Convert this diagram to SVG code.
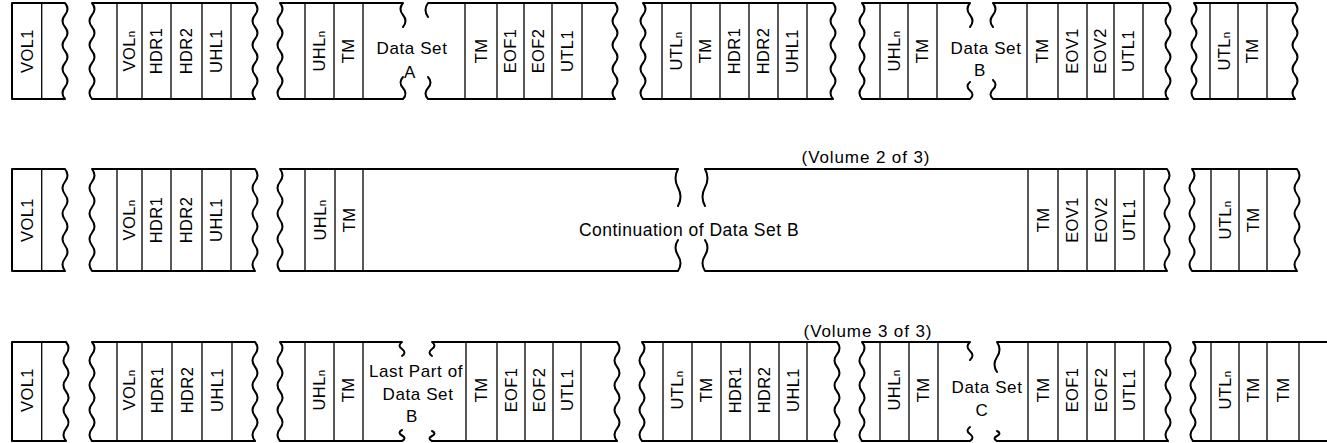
<svg xmlns="http://www.w3.org/2000/svg" width="1327" height="443" viewBox="0 0 1327 443">
<style>
.o{fill:none;stroke:#000;stroke-width:2;stroke-linejoin:round;stroke-linecap:round}
.d{fill:none;stroke:#000;stroke-width:1.3}
.t{font-family:"Liberation Sans",Arial,sans-serif;font-size:16.5px;fill:#000;text-anchor:middle;letter-spacing:0.4px}
.c{font-family:"Liberation Sans",Arial,sans-serif;font-size:17px;fill:#000;text-anchor:middle;letter-spacing:0.6px}
.s{font-size:11.5px}
</style>
<rect width="1327" height="443" fill="#fff"/>

<!-- ROW 1 -->
<g id="r1s1">
<path class="o" d="M 12,3 H 65 q 5,6 0,12 t 0,12 t 0,12 t 0,12 t 0,12 t 0,12 t 0,12 t 0,12 H 12 Z"/>
<path class="d" d="M 41.7,3 V 99"/>
<text class="t" transform="translate(27,51) rotate(-90)" dy="0.36em">VOL1</text>
</g>
<g id="r1s2">
<path class="o" d="M 92,3 H 255 q 5,6 0,12 t 0,12 t 0,12 t 0,12 t 0,12 t 0,12 t 0,12 t 0,12 H 92 q -5,-6 0,-12 t 0,-12 t 0,-12 t 0,-12 t 0,-12 t 0,-12 t 0,-12 t 0,-12 Z"/>
<path class="d" d="M 117,3 V 99 M 142,3 V 99 M 171,3 V 99 M 202,3 V 99 M 231,3 V 99"/>
<text class="t" transform="translate(129.5,51) rotate(-90)" dy="0.36em">VOL<tspan class="s">n</tspan></text>
<text class="t" transform="translate(156.5,51) rotate(-90)" dy="0.36em">HDR1</text>
<text class="t" transform="translate(186.5,51) rotate(-90)" dy="0.36em">HDR2</text>
<text class="t" transform="translate(216.5,51) rotate(-90)" dy="0.36em">UHL1</text>
</g>
<g id="r1s3">
<path class="o" d="M 403,27 q 5,-6 0,-12 t 0,-12 H 280 q 5,6 0,12 t 0,12 t 0,12 t 0,12 t 0,12 t 0,12 t 0,12 t 0,12 H 403 q 5,-5.5 0,-11 t 0,-11"/>
<path class="o" d="M 428,17 q -5,-7 0,-14 H 615 q 5,6 0,12 t 0,12 t 0,12 t 0,12 t 0,12 t 0,12 t 0,12 t 0,12 H 428 q -5,-5.5 0,-11 t 0,-11"/>
<path class="d" d="M 305,3 V 99 M 334,3 V 99 M 363,3 V 99 M 465,3 V 99 M 497,3 V 99 M 524,3 V 99 M 552,3 V 99 M 582,3 V 99"/>
<text class="t" transform="translate(319.5,51) rotate(-90)" dy="0.36em">UHL<tspan class="s">n</tspan></text>
<text class="t" transform="translate(348.5,51) rotate(-90)" dy="0.36em">TM</text>
<text class="c" x="412" y="54">Data Set</text>
<text class="c" x="410" y="78">A</text>
<text class="t" transform="translate(481,51) rotate(-90)" dy="0.36em">TM</text>
<text class="t" transform="translate(510.5,51) rotate(-90)" dy="0.36em">EOF1</text>
<text class="t" transform="translate(538,51) rotate(-90)" dy="0.36em">EOF2</text>
<text class="t" transform="translate(567,51) rotate(-90)" dy="0.36em">UTL1</text>
</g>
<g id="r1s4">
<path class="o" d="M 643,3 H 833 q 5,6 0,12 t 0,12 t 0,12 t 0,12 t 0,12 t 0,12 t 0,12 t 0,12 H 643 q -5,-6 0,-12 t 0,-12 t 0,-12 t 0,-12 t 0,-12 t 0,-12 t 0,-12 t 0,-12 Z"/>
<path class="d" d="M 662,3 V 99 M 691,3 V 99 M 720,3 V 99 M 749,3 V 99 M 778,3 V 99 M 807,3 V 99"/>
<text class="t" transform="translate(676.5,51) rotate(-90)" dy="0.36em">UTL<tspan class="s">n</tspan></text>
<text class="t" transform="translate(705.5,51) rotate(-90)" dy="0.36em">TM</text>
<text class="t" transform="translate(734.5,51) rotate(-90)" dy="0.36em">HDR1</text>
<text class="t" transform="translate(763.5,51) rotate(-90)" dy="0.36em">HDR2</text>
<text class="t" transform="translate(792.5,51) rotate(-90)" dy="0.36em">UHL1</text>
</g>
<g id="r1s5">
<path class="o" d="M 970,27 q 5,-6 0,-12 t 0,-12 H 862 q 5,6 0,12 t 0,12 t 0,12 t 0,12 t 0,12 t 0,12 t 0,12 t 0,12 H 970 q 5,-4.25 0,-8.5 t 0,-8.5"/>
<path class="o" d="M 993,27 q -5,-6 0,-12 t 0,-12 H 1168 q 5,6 0,12 t 0,12 t 0,12 t 0,12 t 0,12 t 0,12 t 0,12 t 0,12 H 993 q -5,-4.75 0,-9.5 t 0,-9.5"/>
<path class="d" d="M 880,3 V 99 M 908,3 V 99 M 937,3 V 99 M 1027,3 V 99 M 1058,3 V 99 M 1087,3 V 99 M 1114,3 V 99 M 1143,3 V 99"/>
<text class="t" transform="translate(894,51) rotate(-90)" dy="0.36em">UHL<tspan class="s">n</tspan></text>
<text class="t" transform="translate(922.5,51) rotate(-90)" dy="0.36em">TM</text>
<text class="c" x="986" y="54">Data Set</text>
<text class="c" x="980" y="76">B</text>
<text class="t" transform="translate(1042.5,51) rotate(-90)" dy="0.36em">TM</text>
<text class="t" transform="translate(1072.5,51) rotate(-90)" dy="0.36em">EOV1</text>
<text class="t" transform="translate(1100.5,51) rotate(-90)" dy="0.36em">EOV2</text>
<text class="t" transform="translate(1128.5,51) rotate(-90)" dy="0.36em">UTL1</text>
</g>
<g id="r1s6">
<path class="o" d="M 1194,3 H 1295 q 5,6 0,12 t 0,12 t 0,12 t 0,12 t 0,12 t 0,12 t 0,12 t 0,12 H 1194 q -5,-6 0,-12 t 0,-12 t 0,-12 t 0,-12 t 0,-12 t 0,-12 t 0,-12 t 0,-12 Z"/>
<path class="d" d="M 1210,3 V 99 M 1238,3 V 99 M 1267,3 V 99"/>
<text class="t" transform="translate(1224,51) rotate(-90)" dy="0.36em">UTL<tspan class="s">n</tspan></text>
<text class="t" transform="translate(1252.5,51) rotate(-90)" dy="0.36em">TM</text>
</g>

<!-- ROW 2 -->
<text id="cap2" class="c" x="866" y="163" style="letter-spacing:0.9px">(Volume 2 of 3)</text>
<g id="r2s1">
<path class="o" d="M 12,169 H 65 q 5,6.4 0,12.75 t 0,12.75 t 0,12.75 t 0,12.75 t 0,12.75 t 0,12.75 t 0,12.75 t 0,12.75 H 12 Z"/>
<path class="d" d="M 41.7,169 V 271"/>
<text class="t" transform="translate(27,220) rotate(-90)" dy="0.36em">VOL1</text>
</g>
<g id="r2s2">
<path class="o" d="M 92,169 H 255 q 5,6.4 0,12.75 t 0,12.75 t 0,12.75 t 0,12.75 t 0,12.75 t 0,12.75 t 0,12.75 t 0,12.75 H 92 q -5,-6.4 0,-12.75 t 0,-12.75 t 0,-12.75 t 0,-12.75 t 0,-12.75 t 0,-12.75 t 0,-12.75 t 0,-12.75 Z"/>
<path class="d" d="M 117,169 V 271 M 142,169 V 271 M 171,169 V 271 M 202,169 V 271 M 231,169 V 271"/>
<text class="t" transform="translate(129.5,220) rotate(-90)" dy="0.36em">VOL<tspan class="s">n</tspan></text>
<text class="t" transform="translate(156.5,220) rotate(-90)" dy="0.36em">HDR1</text>
<text class="t" transform="translate(186.5,220) rotate(-90)" dy="0.36em">HDR2</text>
<text class="t" transform="translate(216.5,220) rotate(-90)" dy="0.36em">UHL1</text>
</g>
<g id="r2s3">
<path class="o" d="M 678,206 q 5,-9.25 0,-18.5 t 0,-18.5 H 280 q 5,6.4 0,12.75 t 0,12.75 t 0,12.75 t 0,12.75 t 0,12.75 t 0,12.75 t 0,12.75 t 0,12.75 H 678 q 5,-7.75 0,-15.5 t 0,-15.5"/>
<path class="o" d="M 705,206 q -5,-9.25 0,-18.5 t 0,-18.5 H 1167 q 5,6.4 0,12.75 t 0,12.75 t 0,12.75 t 0,12.75 t 0,12.75 t 0,12.75 t 0,12.75 t 0,12.75 H 705 q -5,-7.75 0,-15.5 t 0,-15.5"/>
<path class="d" d="M 305,169 V 271 M 335,169 V 271 M 363,169 V 271 M 1028,169 V 271 M 1058,169 V 271 M 1087,169 V 271 M 1115,169 V 271 M 1144,169 V 271"/>
<text class="t" transform="translate(320,220) rotate(-90)" dy="0.36em">UHL<tspan class="s">n</tspan></text>
<text class="t" transform="translate(349,220) rotate(-90)" dy="0.36em">TM</text>
<text class="c" x="689" y="236" style="font-size:17.5px;letter-spacing:0.5px">Continuation of Data Set B</text>
<text class="t" transform="translate(1043,220) rotate(-90)" dy="0.36em">TM</text>
<text class="t" transform="translate(1072.5,220) rotate(-90)" dy="0.36em">EOV1</text>
<text class="t" transform="translate(1101,220) rotate(-90)" dy="0.36em">EOV2</text>
<text class="t" transform="translate(1129.5,220) rotate(-90)" dy="0.36em">UTL1</text>
</g>
<g id="r2s6">
<path class="o" d="M 1192,169 H 1297 q 5,6.4 0,12.75 t 0,12.75 t 0,12.75 t 0,12.75 t 0,12.75 t 0,12.75 t 0,12.75 t 0,12.75 H 1192 q -5,-6.4 0,-12.75 t 0,-12.75 t 0,-12.75 t 0,-12.75 t 0,-12.75 t 0,-12.75 t 0,-12.75 t 0,-12.75 Z"/>
<path class="d" d="M 1211,169 V 271 M 1239,169 V 271 M 1267,169 V 271"/>
<text class="t" transform="translate(1225,220) rotate(-90)" dy="0.36em">UTL<tspan class="s">n</tspan></text>
<text class="t" transform="translate(1253,220) rotate(-90)" dy="0.36em">TM</text>
</g>

<!-- ROW 3 -->
<text id="cap3" class="c" x="868" y="337" style="letter-spacing:0.9px">(Volume 3 of 3)</text>
<g id="r3s1">
<path class="o" d="M 12,342 H 66 q 5,6.2 0,12.375 t 0,12.375 t 0,12.375 t 0,12.375 t 0,12.375 t 0,12.375 t 0,12.375 t 0,12.375 H 12 Z"/>
<path class="d" d="M 41.7,342 V 441"/>
<text class="t" transform="translate(27,390) rotate(-90)" dy="0.36em">VOL1</text>
</g>
<g id="r3s2">
<path class="o" d="M 92,342 H 255 q 5,6.2 0,12.375 t 0,12.375 t 0,12.375 t 0,12.375 t 0,12.375 t 0,12.375 t 0,12.375 t 0,12.375 H 92 q -5,-6.2 0,-12.375 t 0,-12.375 t 0,-12.375 t 0,-12.375 t 0,-12.375 t 0,-12.375 t 0,-12.375 t 0,-12.375 Z"/>
<path class="d" d="M 117,342 V 441 M 142,342 V 441 M 172,342 V 441 M 202,342 V 441 M 232,342 V 441"/>
<text class="t" transform="translate(129.5,390) rotate(-90)" dy="0.36em">VOL<tspan class="s">n</tspan></text>
<text class="t" transform="translate(157,390) rotate(-90)" dy="0.36em">HDR1</text>
<text class="t" transform="translate(187,390) rotate(-90)" dy="0.36em">HDR2</text>
<text class="t" transform="translate(217,390) rotate(-90)" dy="0.36em">UHL1</text>
</g>
<g id="r3s3">
<path class="o" d="M 402,356 q 5,-3.5 0,-7 t 0,-7 H 280 q 5,6.2 0,12.375 t 0,12.375 t 0,12.375 t 0,12.375 t 0,12.375 t 0,12.375 t 0,12.375 t 0,12.375 H 402 q 5,-2.75 0,-5.5 t 0,-5.5"/>
<path class="o" d="M 432,356 q -5,-3.5 0,-7 t 0,-7 H 617 q 5,6.2 0,12.375 t 0,12.375 t 0,12.375 t 0,12.375 t 0,12.375 t 0,12.375 t 0,12.375 t 0,12.375 H 432 q -5,-2.5 0,-5 t 0,-5"/>
<path class="d" d="M 305,342 V 441 M 334,342 V 441 M 363,342 V 441 M 466,342 V 441 M 497,342 V 441 M 525,342 V 441 M 553,342 V 441 M 581,342 V 441"/>
<text class="t" transform="translate(319.5,390) rotate(-90)" dy="0.36em">UHL<tspan class="s">n</tspan></text>
<text class="t" transform="translate(348.5,390) rotate(-90)" dy="0.36em">TM</text>
<text class="c" x="416" y="377">Last Part of</text>
<text class="c" x="418" y="400">Data Set</text>
<text class="c" x="412" y="422">B</text>
<text class="t" transform="translate(481.5,390) rotate(-90)" dy="0.36em">TM</text>
<text class="t" transform="translate(511,390) rotate(-90)" dy="0.36em">EOF1</text>
<text class="t" transform="translate(539,390) rotate(-90)" dy="0.36em">EOF2</text>
<text class="t" transform="translate(567,390) rotate(-90)" dy="0.36em">UTL1</text>
</g>
<g id="r3s4">
<path class="o" d="M 642,342 H 837 q 5,6.2 0,12.375 t 0,12.375 t 0,12.375 t 0,12.375 t 0,12.375 t 0,12.375 t 0,12.375 t 0,12.375 H 642 q -5,-6.2 0,-12.375 t 0,-12.375 t 0,-12.375 t 0,-12.375 t 0,-12.375 t 0,-12.375 t 0,-12.375 t 0,-12.375 Z"/>
<path class="d" d="M 663,342 V 441 M 692,342 V 441 M 721,342 V 441 M 750,342 V 441 M 779,342 V 441 M 807,342 V 441"/>
<text class="t" transform="translate(677.5,390) rotate(-90)" dy="0.36em">UTL<tspan class="s">n</tspan></text>
<text class="t" transform="translate(706.5,390) rotate(-90)" dy="0.36em">TM</text>
<text class="t" transform="translate(735.5,390) rotate(-90)" dy="0.36em">HDR1</text>
<text class="t" transform="translate(764.5,390) rotate(-90)" dy="0.36em">HDR2</text>
<text class="t" transform="translate(793,390) rotate(-90)" dy="0.36em">UHL1</text>
</g>
<g id="r3s5">
<path class="o" d="M 970,360 q 5,-4.5 0,-9 t 0,-9 H 862 q 5,6.2 0,12.375 t 0,12.375 t 0,12.375 t 0,12.375 t 0,12.375 t 0,12.375 t 0,12.375 t 0,12.375 H 970 q 5,-3.5 0,-7 t 0,-7"/>
<path class="o" d="M 997,372 q -5,-7.5 0,-15 t 0,-15 H 1168 q 5,6.2 0,12.375 t 0,12.375 t 0,12.375 t 0,12.375 t 0,12.375 t 0,12.375 t 0,12.375 t 0,12.375 H 997 q -5,-2.5 0,-5 t 0,-5"/>
<path class="d" d="M 880,342 V 441 M 909,342 V 441 M 938,342 V 441 M 1028,342 V 441 M 1058,342 V 441 M 1087,342 V 441 M 1115,342 V 441 M 1144,342 V 441"/>
<text class="t" transform="translate(894.5,390) rotate(-90)" dy="0.36em">UHL<tspan class="s">n</tspan></text>
<text class="t" transform="translate(923.5,390) rotate(-90)" dy="0.36em">TM</text>
<text class="c" x="987" y="393">Data Set</text>
<text class="c" x="982" y="416">C</text>
<text class="t" transform="translate(1043,390) rotate(-90)" dy="0.36em">TM</text>
<text class="t" transform="translate(1072.5,390) rotate(-90)" dy="0.36em">EOF1</text>
<text class="t" transform="translate(1101,390) rotate(-90)" dy="0.36em">EOF2</text>
<text class="t" transform="translate(1129.5,390) rotate(-90)" dy="0.36em">UTL1</text>
</g>
<g id="r3s6">
<path class="o" d="M 1330,342 H 1193 q 5,6.2 0,12.375 t 0,12.375 t 0,12.375 t 0,12.375 t 0,12.375 t 0,12.375 t 0,12.375 t 0,12.375 H 1330"/>
<path class="d" d="M 1211,342 V 441 M 1239,342 V 441 M 1267,342 V 441 M 1299,342 V 441"/>
<text class="t" transform="translate(1225,390) rotate(-90)" dy="0.36em">UTL<tspan class="s">n</tspan></text>
<text class="t" transform="translate(1253,390) rotate(-90)" dy="0.36em">TM</text>
<text class="t" transform="translate(1283,390) rotate(-90)" dy="0.36em">TM</text>
</g>
<g id="connectors"></g>
</svg>
